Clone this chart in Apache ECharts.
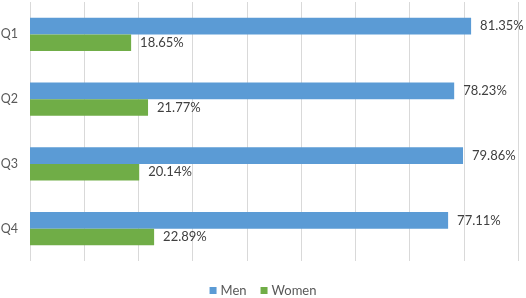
<!DOCTYPE html>
<html>
<head>
<meta charset="utf-8">
<script src="https://cdn.jsdelivr.net/npm/echarts@6/dist/echarts.min.js"></script>
<style>
  html, body { margin: 0; padding: 0; background: #fff; }
  #chart { width: 526px; height: 298px; }
</style>
</head>
<body>
<div id="chart"></div>
<script>
var quarters = ['Q1', 'Q2', 'Q3', 'Q4'];
var menShare = [81.35, 78.23, 79.86, 77.11];
var womenShare = [18.65, 21.77, 20.14, 22.89];

var chart = echarts.init(document.getElementById('chart'));

var labelStyle = {
    show: true,
    position: 'right',
    distance: 9,
    color: '#404040',
    fontSize: 13,
    fontFamily: 'Lato',
    formatter: function (p) { return p.value.toFixed(2) + '%'; }
};

chart.setOption({
    animation: false,
    textStyle: { fontFamily: 'Lato' },
    grid: { left: 30, right: 8, top: 2, bottom: 37, outerBoundsMode: 'none', containLabel: false },
    legend: {
        bottom: 1,
        left: 'center',
        padding: 0,
        itemWidth: 7,
        itemHeight: 7,
        itemGap: 14,
        icon: 'rect',
        textStyle: { color: '#595959', fontSize: 13, fontFamily: 'Lato', padding: [0, 0, 0, -1] },
        data: ['Men', 'Women']
    },
    xAxis: {
        type: 'value',
        min: 0,
        max: 90,
        interval: 10,
        axisLabel: { show: false },
        axisLine: { show: false },
        axisTick: { show: false },
        splitLine: { lineStyle: { color: '#d9d9d9', width: 1 } }
    },
    yAxis: {
        type: 'category',
        inverse: true,
        data: quarters,
        axisLine: { show: false },
        axisTick: { show: false },
        axisLabel: { color: '#595959', fontSize: 12.5, fontFamily: 'Lato', margin: 12 }
    },
    series: [
        {
            name: 'Men',
            type: 'bar',
            data: menShare,
            barGap: '0%',
            barCategoryGap: '49%',
            itemStyle: { color: '#5b9bd5' },
            label: labelStyle
        },
        {
            name: 'Women',
            type: 'bar',
            data: womenShare,
            itemStyle: { color: '#70ad47' },
            label: labelStyle
        }
    ]
});
</script>
</body>
</html>
